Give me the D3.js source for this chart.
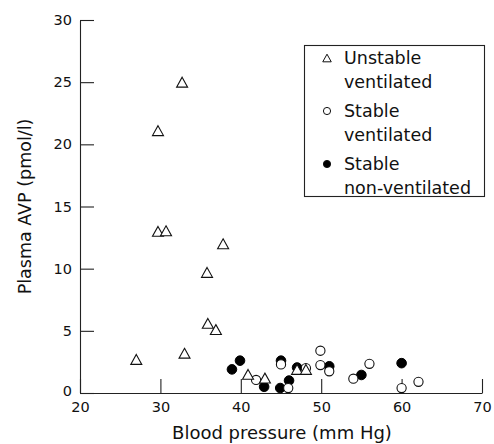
<!DOCTYPE html>
<html>
<head>
<meta charset="utf-8">
<script src="https://cdn.jsdelivr.net/npm/d3@7/dist/d3.min.js"></script>
<style>
  html, body { margin: 0; padding: 0; background: #fff; }
  svg { display: block; font-family: "DejaVu Sans", "Liberation Sans", Arial, sans-serif; }
</style>
</head>
<body>
<svg id="chart" width="494" height="444"></svg>
<script>
// ---- data ----
const xTicks = [20, 30, 40, 50, 60, 70];
const yTicks = [0, 5, 10, 15, 20, 25, 30];

const unstableVentX = [32.7, 29.7, 29.7, 30.7, 37.8, 35.8, 35.9, 36.9, 27.0, 33.0, 40.9, 43.0, 47.0, 48.1];
const unstableVentY = [25.0, 21.1, 13.0, 13.05, 12.0, 9.7, 5.6, 5.1, 2.7, 3.2, 1.5, 1.2, 1.9, 1.9];

const stableVentX = [41.9, 45.0, 45.9, 48.1, 49.9, 49.9, 51.0, 54.0, 56.0, 60.0, 62.1];
const stableVentY = [1.05, 2.3, 0.4, 2.0, 3.4, 2.25, 1.75, 1.15, 2.35, 0.4, 0.9];

const nonVentX = [38.9, 39.9, 42.9, 45.0, 44.9, 46.0, 47.0, 51.0, 55.0, 60.0];
const nonVentY = [1.9, 2.6, 0.5, 2.6, 0.4, 1.0, 2.05, 2.15, 1.45, 2.4];

const legendItems = [
  { kind: "triangle", lines: ["Unstable", "ventilated"] },
  { kind: "open", lines: ["Stable", "ventilated"] },
  { kind: "filled", lines: ["Stable", "non-ventilated"] }
];

const xTitle = "Blood pressure (mm Hg)";
const yTitle = "Plasma AVP (pmol/l)";

// ---- layout ----
const svg = d3.select("#chart");
const mLeft = 80, mRight = 482, mTop = 20, mBottom = 393;
const ink = "#222";

const x = d3.scaleLinear().domain([20, 70]).range([mLeft, mRight]);
const y = d3.scaleLinear().domain([0, 30]).range([mBottom, mTop]);

// axes
const gx = svg.append("g").attr("transform", `translate(0,${mBottom})`)
  .call(d3.axisBottom(x).tickValues(xTicks).tickSizeInner(-14).tickSizeOuter(0).tickPadding(9));
const gy = svg.append("g").attr("transform", `translate(${mLeft},0)`)
  .call(d3.axisLeft(y).tickValues(yTicks).tickSizeInner(-14).tickSizeOuter(0).tickPadding(8));

[gx, gy].forEach(g => {
  g.selectAll("path.domain").attr("stroke", ink).attr("stroke-width", 1.1);
  g.selectAll(".tick line").attr("stroke", ink).attr("stroke-width", 1.1);
  g.selectAll(".tick text").attr("fill", "#111").style("font-size", "14.5px")
    .style("font-family", '"DejaVu Sans", "Liberation Sans", Arial, sans-serif');
});
// the "0" label sits slightly above the corner
gy.selectAll(".tick").filter(d => d === 0).select("text").attr("dy", "0.2em");

// axis titles
svg.append("text").attr("x", (mLeft + mRight) / 2 + 1).attr("y", 439)
  .attr("text-anchor", "middle").attr("fill", "#111").style("font-size", "18px").text(xTitle);
svg.append("text").attr("transform", `translate(31,${(mTop + mBottom) / 2}) rotate(-90)`)
  .attr("text-anchor", "middle").attr("fill", "#111").style("font-size", "17.5px").text(yTitle);

// marker helpers
const triPath = (cx, cy, s) => {
  const h = s * 0.9;
  return `M${cx},${cy - h / 2}L${cx + s / 2},${cy + h / 2}L${cx - s / 2},${cy + h / 2}Z`;
};

const plot = svg.append("g");

// filled circles (stable non-ventilated)
plot.selectAll("circle.nv").data(d3.range(nonVentX.length)).join("circle")
  .attr("class", "nv")
  .attr("cx", i => x(nonVentX[i])).attr("cy", i => y(nonVentY[i])).attr("r", 4.8)
  .attr("fill", "#000").attr("stroke", "#000").attr("stroke-width", 1);

// open circles (stable ventilated)
plot.selectAll("circle.sv").data(d3.range(stableVentX.length)).join("circle")
  .attr("class", "sv")
  .attr("cx", i => x(stableVentX[i])).attr("cy", i => y(stableVentY[i])).attr("r", 4.6)
  .attr("fill", "#fff").attr("stroke", "#111").attr("stroke-width", 1.1);

// triangles (unstable ventilated)
plot.selectAll("path.uv").data(d3.range(unstableVentX.length)).join("path")
  .attr("class", "uv")
  .attr("d", i => triPath(x(unstableVentX[i]), y(unstableVentY[i]), 11))
  .attr("fill", "#fff").attr("stroke", "#111").attr("stroke-width", 1.1);

// legend
const lg = svg.append("g");
lg.append("rect").attr("x", 304.5).attr("y", 45.5).attr("width", 180).attr("height", 151)
  .attr("fill", "#fff").attr("stroke", ink).attr("stroke-width", 1.1);

const itemBase = [64, 117, 170];
legendItems.forEach((it, k) => {
  const by = itemBase[k];
  const sy = by - 6;
  if (it.kind === "triangle") {
    lg.append("path").attr("d", triPath(327, sy, 8.5)).attr("fill", "#fff").attr("stroke", "#111").attr("stroke-width", 1);
  } else {
    lg.append("circle").attr("cx", 327).attr("cy", sy).attr("r", 3.6)
      .attr("fill", it.kind === "filled" ? "#000" : "#fff").attr("stroke", "#111").attr("stroke-width", 1);
  }
  it.lines.forEach((ln, j) => {
    lg.append("text").attr("x", 344).attr("y", by + j * 23.5)
      .attr("fill", "#111").style("font-size", "17.5px").text(ln);
  });
});
</script>
</body>
</html>
